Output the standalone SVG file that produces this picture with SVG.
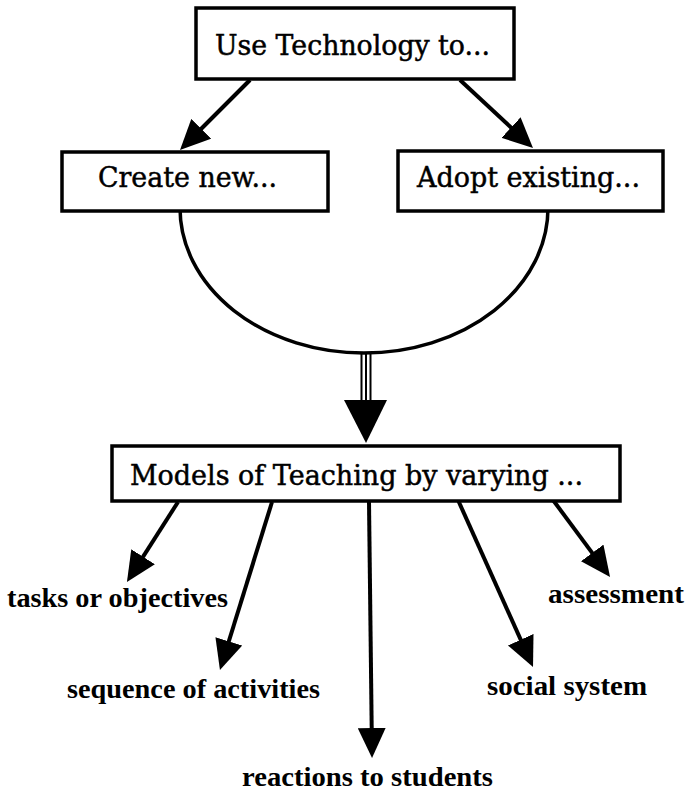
<svg xmlns="http://www.w3.org/2000/svg" width="691" height="793" viewBox="0 0 691 793">
<style>
.box{fill:#fff;stroke:#000;stroke-width:3.5}
.bt{font-family:"DejaVu Serif","Liberation Serif",serif;font-size:28px;fill:#000;stroke:#000;stroke-width:0.5}
.lb{font-family:"Liberation Serif","DejaVu Serif",serif;font-size:27px;fill:#000;font-weight:bold}
.ar{stroke:#000;stroke-width:4;fill:none;marker-end:url(#ah)}
</style>
<defs>
<marker id="ah" viewBox="0 0 30 28" refX="18" refY="14" markerWidth="30" markerHeight="28" markerUnits="userSpaceOnUse" orient="auto">
<path d="M0,0 L30,14 L0,28 z" fill="#000"/>
</marker>
</defs>
<rect width="691" height="793" fill="#fff"/>
<g id="connectors">
<line class="ar" x1="250" y1="80" x2="188.5" y2="141.5"/>
<line class="ar" x1="460" y1="80" x2="524.2" y2="139.8"/>
<path d="M180,208 A184,145 0 0 0 548,208" fill="none" stroke="#000" stroke-width="3.5"/>
<g stroke="#000" stroke-width="2">
<line x1="361.5" y1="352" x2="361.5" y2="401"/>
<line x1="366" y1="352" x2="366" y2="401"/>
<line x1="370.5" y1="352" x2="370.5" y2="401"/>
</g>
<polygon points="344,400 387,400 366,443" fill="#000"/>
<line class="ar" x1="178" y1="502" x2="133.4" y2="571.9"/>
<line class="ar" x1="272" y1="502" x2="223.5" y2="658.5"/>
<line class="ar" x1="369" y1="502" x2="371.9" y2="746"/>
<line class="ar" x1="458" y1="500" x2="528.1" y2="656.1"/>
<line class="ar" x1="553" y1="500" x2="602.9" y2="567.4"/>
</g>
<g id="n-use">
<rect class="box" x="196" y="8" width="318" height="71"/>
<text class="bt" x="215" y="55" textLength="275" lengthAdjust="spacingAndGlyphs">Use Technology to...</text>
</g>
<g id="n-create">
<rect class="box" x="62" y="152" width="266" height="59"/>
<text class="bt" x="98" y="187" textLength="179" lengthAdjust="spacingAndGlyphs">Create new...</text>
</g>
<g id="n-adopt">
<rect class="box" x="398" y="151" width="265" height="60"/>
<text class="bt" x="417" y="187" textLength="223" lengthAdjust="spacingAndGlyphs">Adopt existing...</text>
</g>
<g id="n-models">
<rect class="box" x="112" y="446" width="508" height="55"/>
<text class="bt" x="130" y="485" textLength="453" lengthAdjust="spacingAndGlyphs">Models of Teaching by varying ...</text>
</g>
<g id="n-tasks"><text class="lb" x="7" y="607" textLength="221" lengthAdjust="spacingAndGlyphs">tasks or objectives</text></g>
<g id="n-sequence"><text class="lb" x="67" y="698" textLength="253" lengthAdjust="spacingAndGlyphs">sequence of activities</text></g>
<g id="n-reactions"><text class="lb" x="242" y="786" textLength="251" lengthAdjust="spacingAndGlyphs">reactions to students</text></g>
<g id="n-social"><text class="lb" x="487" y="695" textLength="160" lengthAdjust="spacingAndGlyphs">social system</text></g>
<g id="n-assessment"><text class="lb" x="548" y="603" textLength="136" lengthAdjust="spacingAndGlyphs">assessment</text></g>
</svg>
